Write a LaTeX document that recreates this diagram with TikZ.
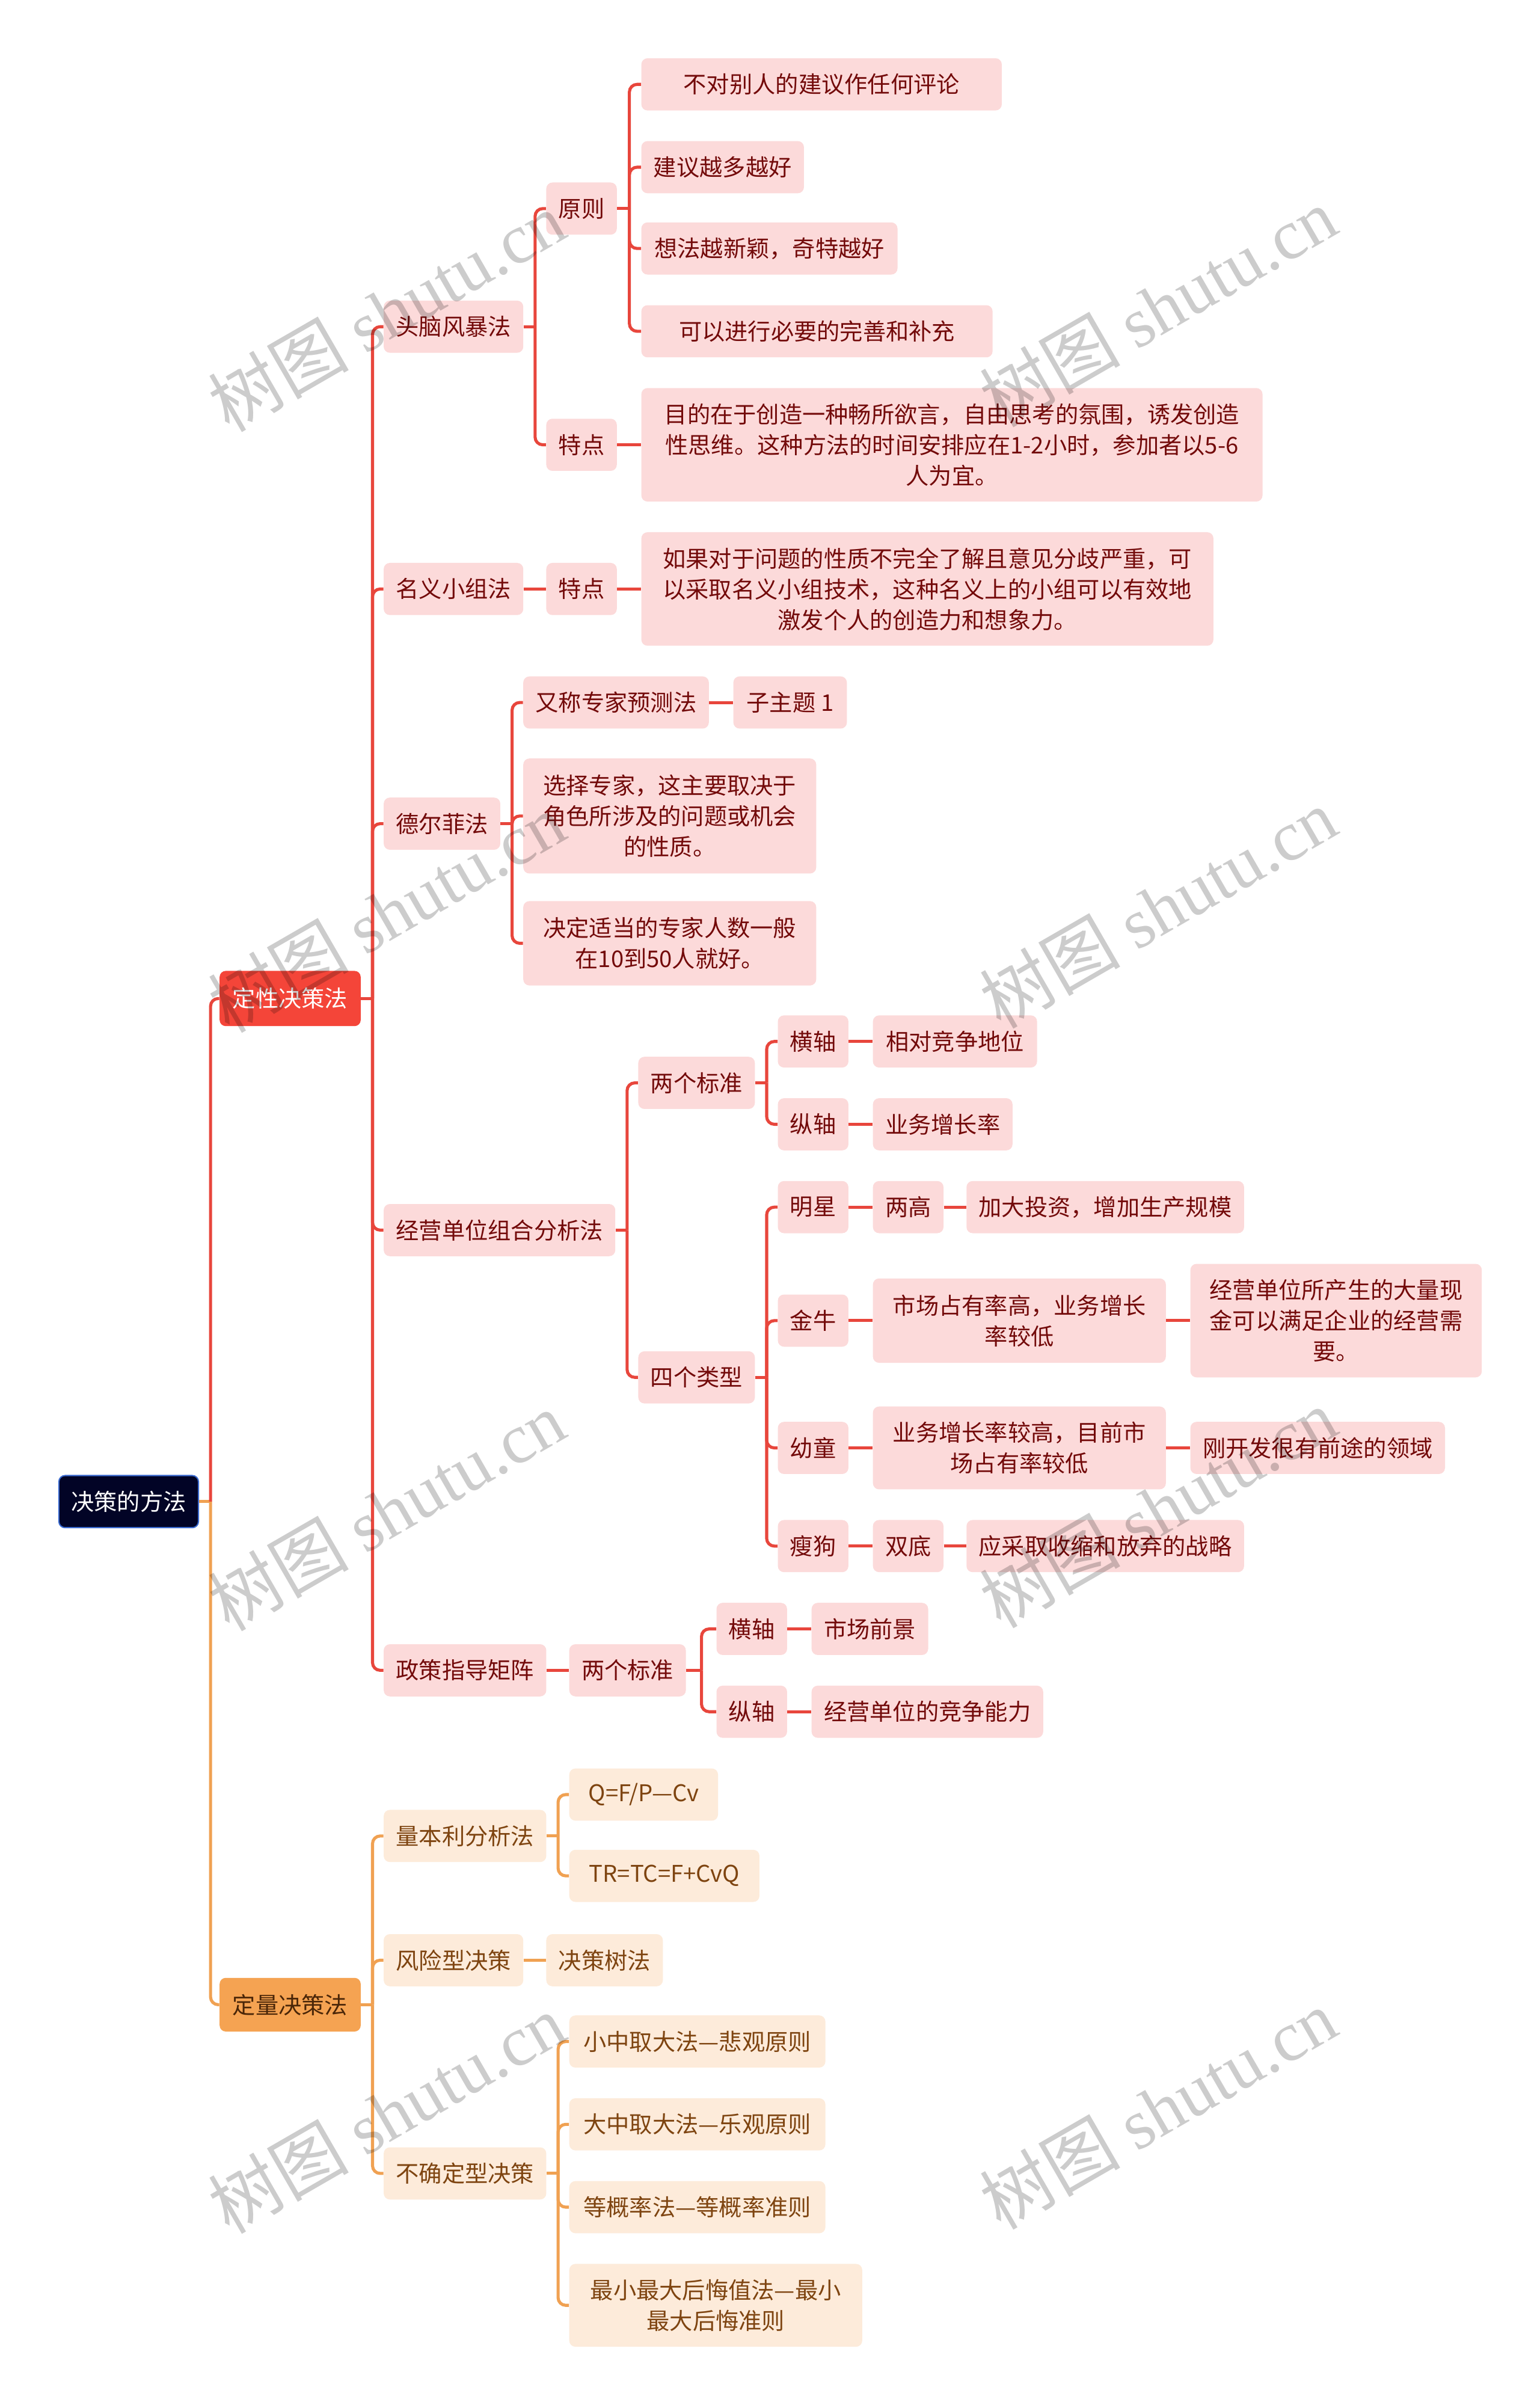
\documentclass[tikz,border=0pt]{standalone}
\usepackage{fontspec}
\newfontfamily\cjk{Noto Sans CJK SC}
\newfontfamily\wmserif{Liberation Serif}
\definecolor{redline}{HTML}{E8463C}
\definecolor{qualfill}{HTML}{F44539}
\definecolor{pinkfill}{HTML}{FCDADA}
\definecolor{darkred}{HTML}{730A0A}
\definecolor{orangeline}{HTML}{F0A152}
\definecolor{quantfill}{HTML}{F5A352}
\definecolor{creamfill}{HTML}{FDEBDA}
\definecolor{brownt}{HTML}{7E4410}
\definecolor{quantt}{HTML}{4A2608}
\definecolor{rootfill}{HTML}{020426}
\definecolor{rootborder}{HTML}{3A6AD0}
\newcommand\fork[4]{%
  \draw[#1] (#2.east) -- ++(#3,0);
  \foreach \c in {#4} {\draw[#1, rounded corners=5pt] (#2.east) ++(#3,0) |- (\c.west);}
}
\begin{document}
\begin{tikzpicture}[x=1pt,y=1pt,
  every node/.style={font=\cjk\fontsize{15}{20}\selectfont},
  base/.style={rounded corners=4pt, anchor=west, minimum height=34pt, inner xsep=8pt, inner ysep=0pt, align=center},
  rbox/.style={base, fill=pinkfill, text=darkred},
  obox/.style={base, fill=creamfill, text=brownt},
  rl/.style={draw=redline, line width=2pt},
  ol/.style={draw=orangeline, line width=2pt},
  wm/.style={text=black, opacity=0.2, font=\cjk\fontsize{46}{46}\selectfont, rotate=30}
]
\useasboundingbox (0,0) rectangle (1004,-1568);
\fill[white] (0,0) rectangle (1004,-1568);

% root and main branches
\node[base, fill=rootfill, draw=rootborder, line width=0.8pt, text=white, minimum width=90pt] (root) at (38,-979) {决策的方法};
\node[base, fill=qualfill, text=white, minimum width=92pt, minimum height=36pt] (qual) at (143,-651) {定性决策法};
\node[base, fill=quantfill, text=quantt, minimum width=92pt, minimum height=35pt] (quant) at (143,-1307) {定量决策法};

% level 2 red
\node[rbox, minimum width=91pt] (a1) at (250,-213) {头脑风暴法};
\node[rbox, minimum width=91pt] (a2) at (250,-384) {名义小组法};
\node[rbox, minimum width=76pt] (a3) at (250,-537) {德尔菲法};
\node[rbox, minimum width=151pt] (a4) at (250,-802) {经营单位组合分析法};
\node[rbox, minimum width=106pt] (a5) at (250,-1089) {政策指导矩阵};

% brainstorming
\node[rbox, minimum width=46pt] (b1) at (356,-136) {原则};
\node[rbox, minimum width=46pt] (b2) at (356,-290) {特点};
\node[rbox, minimum width=235pt] (c1) at (418,-55) {不对别人的建议作任何评论};
\node[rbox, minimum width=104pt] (c2) at (418,-109) {建议越多越好};
\node[rbox, minimum width=167pt] (c3) at (418,-162) {想法越新颖，奇特越好};
\node[rbox, minimum width=229pt] (c4) at (418,-216) {可以进行必要的完善和补充};
\node[rbox, minimum width=405pt, minimum height=74pt] (c5) at (418,-290) {目的在于创造一种畅所欲言，自由思考的氛围，诱发创造\\性思维。这种方法的时间安排应在1-2小时，参加者以5-6\\人为宜。};

% nominal group
\node[rbox, minimum width=46pt] (b3) at (356,-384) {特点};
\node[rbox, minimum width=373pt, minimum height=74pt] (c6) at (418,-384) {如果对于问题的性质不完全了解且意见分歧严重，可\\以采取名义小组技术，这种名义上的小组可以有效地\\激发个人的创造力和想象力。};

% delphi
\node[rbox, minimum width=121pt] (b4) at (341,-458) {又称专家预测法};
\node[rbox, minimum width=191pt, minimum height=75pt] (b5) at (341,-532) {选择专家，这主要取决于\\角色所涉及的问题或机会\\的性质。};
\node[rbox, minimum width=191pt, minimum height=55pt] (b6) at (341,-615) {决定适当的专家人数一般\\在10到50人就好。};
\node[rbox, minimum width=74pt] (c7) at (478,-458) {子主题 1};

% portfolio analysis
\node[rbox, minimum width=76pt] (b7) at (416,-706) {两个标准};
\node[rbox, minimum width=76pt] (b8) at (416,-898) {四个类型};
\node[rbox, minimum width=46pt] (d1) at (507,-679) {横轴};
\node[rbox, minimum width=46pt] (d2) at (507,-733) {纵轴};
\node[rbox, minimum width=107pt] (e1) at (569,-679) {相对竞争地位};
\node[rbox, minimum width=91pt] (e2) at (569,-733) {业务增长率};
\node[rbox, minimum width=46pt] (d3) at (507,-787) {明星};
\node[rbox, minimum width=46pt] (d4) at (507,-861) {金牛};
\node[rbox, minimum width=46pt] (d5) at (507,-944) {幼童};
\node[rbox, minimum width=46pt] (d6) at (507,-1008) {瘦狗};
\node[rbox, minimum width=46pt] (e3) at (569,-787) {两高};
\node[rbox, minimum width=191pt, minimum height=55pt] (e4) at (569,-861) {市场占有率高，业务增长\\率较低};
\node[rbox, minimum width=191pt, minimum height=54pt] (e5) at (569,-944) {业务增长率较高，目前市\\场占有率较低};
\node[rbox, minimum width=46pt] (e6) at (569,-1008) {双底};
\node[rbox, minimum width=181pt] (f1) at (630,-787) {加大投资，增加生产规模};
\node[rbox, minimum width=190pt, minimum height=74pt] (f2) at (776,-861) {经营单位所产生的大量现\\金可以满足企业的经营需\\要。};
\node[rbox, minimum width=165pt] (f3) at (776,-944) {刚开发很有前途的领域};
\node[rbox, minimum width=181pt] (f4) at (630,-1008) {应采取收缩和放弃的战略};

% policy matrix
\node[rbox, minimum width=76pt] (b9) at (371,-1089) {两个标准};
\node[rbox, minimum width=46pt] (d7) at (467,-1062) {横轴};
\node[rbox, minimum width=46pt] (d8) at (467,-1116) {纵轴};
\node[rbox, minimum width=76pt] (e7) at (529,-1062) {市场前景};
\node[rbox, minimum width=150pt] (e8) at (529,-1116) {经营单位的竞争能力};

% quantitative
\node[obox, minimum width=106pt] (g1) at (250,-1197) {量本利分析法};
\node[obox, minimum width=91pt] (g2) at (250,-1278) {风险型决策};
\node[obox, minimum width=106pt] (g3) at (250,-1417) {不确定型决策};
\node[obox, minimum width=97pt] (h1) at (371,-1170) {Q=F/P—Cv};
\node[obox, minimum width=124pt] (h2) at (371,-1223) {TR=TC=F+CvQ};
\node[obox, minimum width=76pt] (h3) at (356,-1278) {决策树法};
\node[obox, minimum width=167pt] (h4) at (371,-1331) {小中取大法—悲观原则};
\node[obox, minimum width=167pt] (h5) at (371,-1385) {大中取大法—乐观原则};
\node[obox, minimum width=167pt] (h6) at (371,-1439) {等概率法—等概率准则};
\node[obox, minimum width=191pt, minimum height=54pt] (h7) at (371,-1503) {最小最大后悔值法—最小\\最大后悔准则};

% connectors
\draw[ol] (root.east) -- ++(7.5,0);
\draw[rl, rounded corners=5pt] (root.east) ++(7.5,0) |- (qual.west);
\draw[ol, rounded corners=5pt] (root.east) ++(7.5,0) |- (quant.west);
\fork{rl}{qual}{7.5}{a1,a2,a3,a4,a5}
\fork{rl}{a1}{7.5}{b1,b2}
\fork{rl}{b1}{8}{c1,c2,c3,c4}
\draw[rl] (b2.east) -- (c5.west);
\draw[rl] (a2.east) -- (b3.west);
\draw[rl] (b3.east) -- (c6.west);
\fork{rl}{a3}{7.5}{b4,b5,b6}
\draw[rl] (b4.east) -- (c7.west);
\fork{rl}{a4}{7.5}{b7,b8}
\fork{rl}{b7}{7.5}{d1,d2}
\draw[rl] (d1.east) -- (e1.west);
\draw[rl] (d2.east) -- (e2.west);
\fork{rl}{b8}{7.5}{d3,d4,d5,d6}
\draw[rl] (d3.east) -- (e3.west);
\draw[rl] (e3.east) -- (f1.west);
\draw[rl] (d4.east) -- (e4.west);
\draw[rl] (e4.east) -- (f2.west);
\draw[rl] (d5.east) -- (e5.west);
\draw[rl] (e5.east) -- (f3.west);
\draw[rl] (d6.east) -- (e6.west);
\draw[rl] (e6.east) -- (f4.west);
\draw[rl] (a5.east) -- (b9.west);
\fork{rl}{b9}{10}{d7,d8}
\draw[rl] (d7.east) -- (e7.west);
\draw[rl] (d8.east) -- (e8.west);
\fork{ol}{quant}{7.5}{g1,g2,g3}
\fork{ol}{g1}{7.5}{h1,h2}
\draw[ol] (g2.east) -- (h3.west);
\fork{ol}{g3}{7.5}{h4,h5,h6,h7}

% watermarks
\foreach \wx/\wy [count=\i] in {252/203,755/200,252/595,755/592,252/985,755/983,252/1378,755/1375}
  \node[wm] (wm\i) at (\wx,-\wy) {树图 {\wmserif shutu.cn}};
\end{tikzpicture}
\end{document}
